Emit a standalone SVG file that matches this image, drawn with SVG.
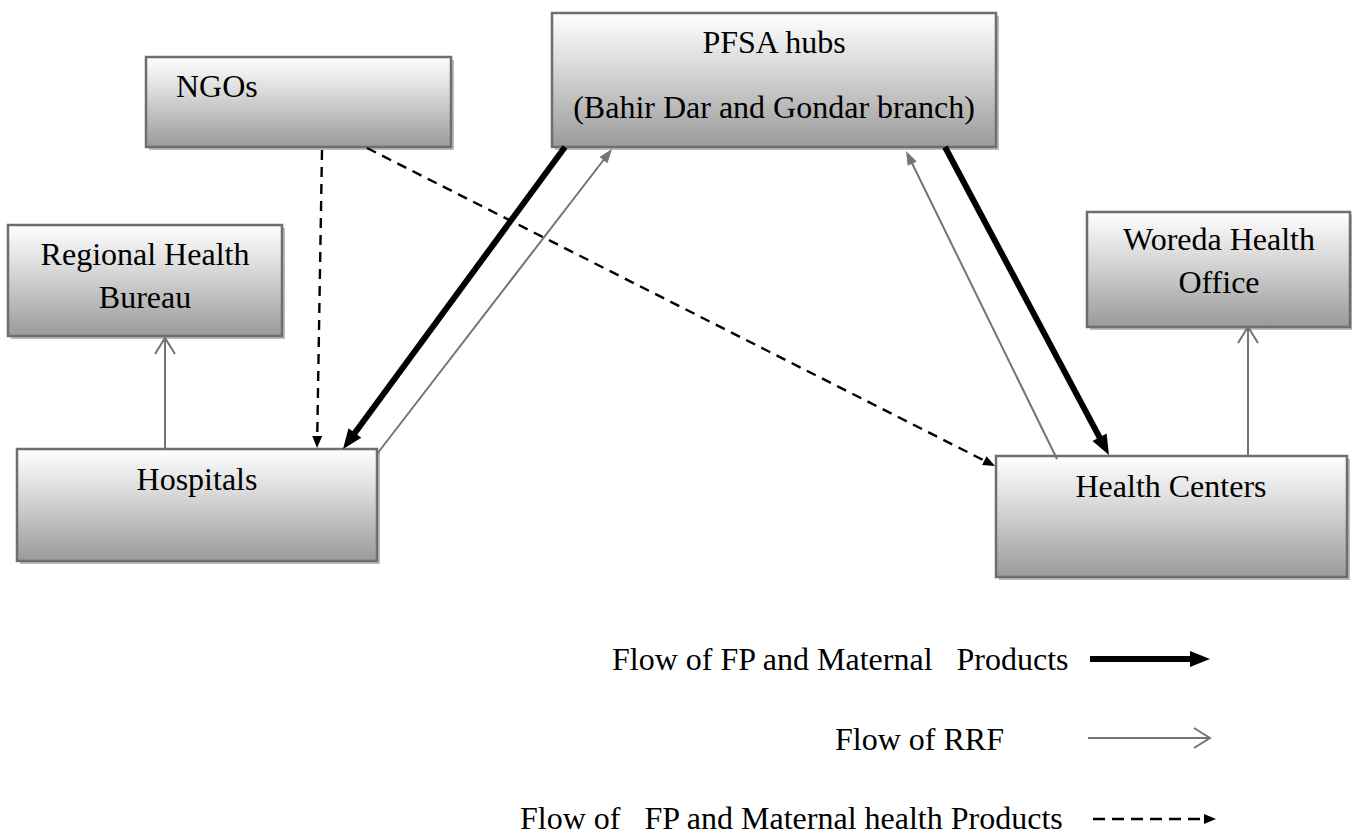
<svg xmlns="http://www.w3.org/2000/svg" width="1352" height="835" viewBox="0 0 1352 835">
<style>
  .box { fill: url(#boxGrad); stroke: #6e6e6e; stroke-width: 2.5; }
  .shadow { fill: #bdbdbd; }
  .lbl { font-family: "Liberation Serif", "Times New Roman", serif; font-size: 32px; fill: #000; }
  .mid { text-anchor: middle; }
  .thick { stroke: #000; stroke-width: 6; fill: none; }
  .rrf { stroke: #747474; stroke-width: 2; fill: none; }
  .dash { stroke: #000; stroke-width: 2.4; fill: none; stroke-dasharray: 10 7; }
  .ldash { stroke: #000; stroke-width: 2.5; fill: none; stroke-dasharray: 12 7; }
</style>
<defs>
  <linearGradient id="boxGrad" x1="0" y1="0" x2="0" y2="1">
    <stop offset="0" stop-color="#ffffff"/>
    <stop offset="0.35" stop-color="#dedede"/>
    <stop offset="1" stop-color="#9a9a9a"/>
  </linearGradient>
  <marker id="headThick" markerUnits="userSpaceOnUse" markerWidth="24" markerHeight="20" refX="2" refY="8" orient="auto" overflow="visible">
    <path d="M0,0 L20,8 L0,16 z" fill="#000"/>
  </marker>
  <marker id="headGray" markerUnits="userSpaceOnUse" markerWidth="16" markerHeight="12" refX="2" refY="5" orient="auto" overflow="visible">
    <path d="M0,0 L14,5 L0,10 z" fill="#747474"/>
  </marker>
  <marker id="headDash" markerUnits="userSpaceOnUse" markerWidth="14" markerHeight="12" refX="2" refY="5" orient="auto" overflow="visible">
    <path d="M0,0 L12,5 L0,10 z" fill="#000"/>
  </marker>
  <marker id="headOpen" markerUnits="userSpaceOnUse" markerWidth="20" markerHeight="22" refX="16" refY="10" orient="auto" overflow="visible">
    <path d="M0,0 L16,10 L0,20" fill="none" stroke="#747474" stroke-width="2"/>
  </marker>
</defs>

<g id="node-ngos">
  <rect class="shadow" x="149" y="60" width="305" height="90"/>
  <rect class="box" x="146" y="57" width="305" height="90"/>
  <text class="lbl" x="176" y="97">NGOs</text>
</g>
<g id="node-pfsa">
  <rect class="shadow" x="555" y="16" width="444" height="134"/>
  <rect class="box" x="552" y="13" width="444" height="134"/>
  <text class="lbl mid" x="774" y="53">PFSA hubs</text>
  <text class="lbl mid" x="774" y="118">(Bahir Dar and Gondar branch)</text>
</g>
<g id="node-rhb">
  <rect class="shadow" x="11" y="228" width="274" height="111"/>
  <rect class="box" x="8" y="225" width="274" height="111"/>
  <text class="lbl mid" x="145" y="265">Regional Health</text>
  <text class="lbl mid" x="145" y="308">Bureau</text>
</g>
<g id="node-hospitals">
  <rect class="shadow" x="20" y="452" width="360" height="112"/>
  <rect class="box" x="17" y="449" width="360" height="112"/>
  <text class="lbl mid" x="197" y="490">Hospitals</text>
</g>
<g id="node-woreda">
  <rect class="shadow" x="1090" y="215" width="263" height="115"/>
  <rect class="box" x="1087" y="212" width="263" height="115"/>
  <text class="lbl mid" x="1219" y="250">Woreda Health</text>
  <text class="lbl mid" x="1219" y="293">Office</text>
</g>
<g id="node-hc">
  <rect class="shadow" x="999" y="459" width="351" height="121"/>
  <rect class="box" x="996" y="456" width="351" height="121"/>
  <text class="lbl mid" x="1171" y="497">Health Centers</text>
</g>

<g id="connectors">
  <line class="thick" x1="565" y1="147" x2="353.7" y2="434.5" marker-end="url(#headThick)"/>
  <line class="rrf" x1="377" y1="454" x2="604.7" y2="158.5" marker-end="url(#headGray)"/>
  <line class="thick" x1="945" y1="147" x2="1100.5" y2="439.1" marker-end="url(#headThick)"/>
  <line class="rrf" x1="1057" y1="459" x2="911.3" y2="161.8" marker-end="url(#headGray)"/>
  <line class="dash" x1="322" y1="150" x2="317.2" y2="438" marker-end="url(#headDash)"/>
  <line class="dash" x1="367" y1="148" x2="986.1" y2="461.5" marker-end="url(#headDash)"/>
  <line class="rrf" x1="165" y1="449" x2="165" y2="338" marker-end="url(#headOpen)"/>
  <line class="rrf" x1="1248" y1="456" x2="1248" y2="327" marker-end="url(#headOpen)"/>
</g>

<g id="legend">
  <text class="lbl" x="612" y="670" xml:space="preserve">Flow of FP and Maternal   Products</text>
  <line class="thick" x1="1090" y1="659" x2="1192" y2="659" marker-end="url(#headThick)"/>
  <text class="lbl" x="835" y="750">Flow of RRF</text>
  <line class="rrf" x1="1088" y1="738" x2="1210" y2="738" marker-end="url(#headOpen)"/>
  <text class="lbl" x="520" y="829" xml:space="preserve">Flow of   FP and Maternal health Products</text>
  <line class="ldash" x1="1093" y1="819" x2="1206" y2="819" marker-end="url(#headDash)"/>
</g>
</svg>
